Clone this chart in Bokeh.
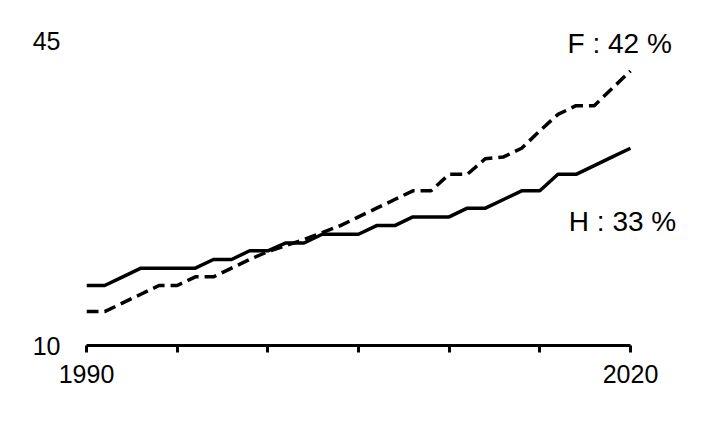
from bokeh.plotting import figure
from bokeh.models import FixedTicker, Label, Range1d
from bokeh.embed import file_html
from bokeh.resources import INLINE

years = list(range(1990, 2021))
H = [16.9, 16.9, 17.9, 18.9, 18.9, 18.9, 18.9, 19.9, 19.9, 20.9, 20.9, 21.8, 21.8, 22.8, 22.8, 22.8,
     23.8, 23.8, 24.8, 24.8, 24.8, 25.8, 25.8, 26.8, 27.8, 27.8, 29.7, 29.7, 30.7, 31.7, 32.7]
F = [13.9, 13.9, 14.9, 15.9, 16.9, 16.9, 17.9, 17.9, 18.9, 19.9, 20.8, 21.5, 22.2, 23.0, 23.8, 24.8,
     25.8, 26.8, 27.8, 27.8, 29.7, 29.7, 31.5, 31.7, 32.7, 34.7, 36.6, 37.6, 37.6, 39.6, 41.6]
x_ticks = [1990, 1995, 2000, 2005, 2010, 2015, 2020]
y_ticks = [10, 45]
FONT = "Liberation Sans"

p = figure(width=700, height=410, output_backend="svg", toolbar_location=None,
           x_range=Range1d(1990, 2023.31), y_range=Range1d(10, 48.55),
           min_border_left=86, min_border_right=10, min_border_top=10, min_border_bottom=65)
p.background_fill_color = "white"
p.border_fill_color = "white"
p.outline_line_color = None
p.grid.visible = False

p.line(years, H, line_color="black", line_width=3.5)
p.line(years, F, line_color="black", line_width=3.5, line_dash="12 6")

xa = p.xaxis[0]
xa.bounds = (x_ticks[0], x_ticks[-1])
xa.ticker = FixedTicker(ticks=x_ticks)
xa.major_label_overrides = {t: (str(t) if t in (x_ticks[0], x_ticks[-1]) else "") for t in x_ticks}
xa.axis_line_width = 3
xa.axis_line_color = "black"
xa.major_tick_line_width = 3
xa.major_tick_out = 7
xa.major_tick_in = 0
xa.minor_tick_line_color = None
xa.major_label_text_font = FONT
xa.major_label_text_font_size = "25px"
xa.major_label_text_color = "black"
xa.major_label_standoff = 12

ya = p.yaxis[0]
ya.ticker = FixedTicker(ticks=y_ticks)
ya.axis_line_color = None
ya.major_tick_line_color = None
ya.minor_tick_line_color = None
ya.major_tick_out = 0
ya.major_tick_in = 0
ya.major_label_text_font = FONT
ya.major_label_text_font_size = "25px"
ya.major_label_text_color = "black"
ya.major_label_standoff = 26

p.add_layout(Label(x=2016.53, y=44.75, text=f"F : {F[-1]:.0f} %", text_font=FONT,
                   text_font_size="28px", text_color="black", text_baseline="alphabetic"))
p.add_layout(Label(x=2016.6, y=24.27, text=f"H : {H[-1]:.0f} %", text_font=FONT,
                   text_font_size="28px", text_color="black", text_baseline="alphabetic"))

open("out.html", "w").write(file_html(p, INLINE))
